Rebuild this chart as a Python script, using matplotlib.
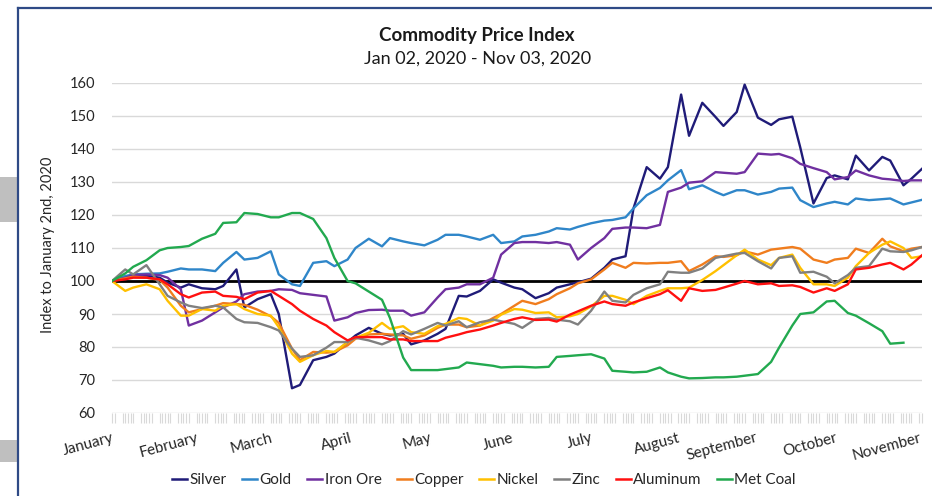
import numpy as np
import pandas as pd
import matplotlib
matplotlib.use("Agg")
import matplotlib.pyplot as plt
import matplotlib.dates as mdates
from matplotlib.patches import Rectangle
from matplotlib.lines import Line2D
from matplotlib.transforms import ScaledTranslation

plt.rcParams['font.family'] = ['Lato', 'DejaVu Sans']

# ---- data -------------------------------------------------------------
all_days = pd.bdate_range("2020-01-02", "2020-11-03")
sample_idx = list(range(0, 217, 3)) + [218]
dates = all_days[sample_idx]

silver = [100, 101.3, 101.6, 101.6, 101, 99.5, 98, 99, 97.8, 97.5,
          98.5, 103.5, 92, 94.5, 96, 90, 67.5, 68.5, 76, 77,
          78, 81.5, 83.5, 85.8, 84, 83.5, 84, 80.8, 82, 84,
          85.5, 95.5, 95.3, 97, 100.5, 99.5, 98, 97.5, 94.8, 96.3,
          98, 99, 99.6, 100.7, 104, 106.5, 107.5, 122, 134.5, 131,
          134.5, 156.5, 144, 154, 149.7, 147, 151.2, 159.5, 149.5, 147.3,
          149, 149.8, 140.5, 123.5, 131.2, 132, 130.8, 138, 133.5, 137.6,
          136.5, 129, 131, 134]
gold = [100, 101.5, 102, 102.2, 102.3, 102.8, 103.8, 103.5, 103.5, 103,
        105.5, 108.8, 106.5, 107, 109, 102, 99, 98.5, 105.5, 106,
        104.5, 106.5, 110, 112.8, 110.5, 113, 112, 111.5, 110.8, 112.5,
        114, 114, 113.5, 112.5, 114, 111.5, 112, 113.5, 114, 115,
        116, 115.6, 116.4, 117.5, 118.3, 118.5, 119.3, 122, 126, 128.2,
        130.5, 133.6, 127.8, 129, 127, 126, 127.5, 127.5, 126.2, 127,
        128, 128.3, 124.5, 122.4, 123.5, 124, 123.2, 125, 124.5, 124.8,
        125, 123.2, 123.8, 124.6]
iron_ore = [100, 101, 101.8, 102, 101.8, 101, 97.5, 86.5, 88, 90.5,
            92, 93.8, 96, 96.8, 97, 97.5, 97.3, 96.3, 95.8, 95.3,
            88, 89, 90.3, 91.2, 91.3, 91, 91, 89.5, 90.5, 95,
            97.5, 98, 99, 99, 101, 108, 111.5, 111.8, 111.8, 111.5,
            111.8, 111, 106.5, 110, 113, 115.8, 116.2, 116.2, 116, 117,
            127, 128.3, 129.8, 130.2, 133, 132.8, 132.5, 133, 138.6, 138.3,
            138.5, 137.2, 135.5, 134.2, 133, 130.8, 131.5, 133.5, 132, 131,
            130.8, 130.3, 130.5, 130.5]
copper = [100, 100.8, 101.3, 101, 100.3, 98, 92.5, 90.5, 91.5, 92.5,
          93.3, 93, 92.8, 91.3, 89.3, 87.3, 79.5, 76, 78.5, 78.3,
          78.5, 80.5, 82.5, 83.8, 84, 83.8, 83.5, 82.5, 83.5, 85.8,
          86.8, 86.8, 86, 86.5, 88.8, 90, 92.5, 94, 93, 94.5,
          96, 97.8, 99.3, 100.5, 103.5, 105.5, 104, 105.5, 105.3, 105.5,
          105.5, 106, 103, 105, 107.5, 107.3, 107.8, 109, 108, 109.5,
          109.8, 110.3, 109.8, 106.5, 105.5, 106.5, 107, 109.8, 108.5, 112.8,
          110.5, 109, 109.8, 110.3]
nickel = [100, 97, 98, 99, 97.5, 94, 89.5, 89.5, 91.5, 91,
          92.5, 93, 91.5, 90, 89.5, 86, 78, 75.5, 77.5, 78.8,
          78.5, 81.5, 82.8, 84.3, 87.3, 85.5, 86.3, 84.5, 84, 86.3,
          87, 88.8, 88.5, 86.5, 88, 89.8, 91.5, 91.3, 90.3, 90.5,
          89, 89.3, 90, 92.3, 95.5, 95.5, 94.3, 93, 95.5, 97,
          97.8, 97.8, 98, 100.3, 103, 104.8, 107.8, 109.5, 106.5, 104.8,
          107, 108, 104, 99, 99, 98.5, 101, 104.5, 108.5, 111,
          112, 110, 107, 107.5]
zinc = [100, 103.5, 102, 104.8, 99, 95.5, 93.5, 92.5, 91.8, 92.5,
        92, 88.5, 87.5, 87.3, 86, 85, 79.5, 77, 77.5, 79.8,
        81.5, 81.5, 82.8, 82, 80.8, 81.8, 84.8, 83.8, 85.5, 87.3,
        86.5, 87.8, 86, 87.5, 88.3, 87.8, 87, 85.8, 88.5, 88.8,
        88.3, 87.8, 86.8, 91, 96.8, 94, 93.5, 95.8, 97.8, 99,
        102.8, 102.5, 102.5, 103.8, 107, 107.5, 108.3, 108.5, 106, 103.8,
        107, 107.5, 102.5, 102.8, 101.3, 99.3, 101.8, 104, 104.5, 109.8,
        109, 108.8, 109.3, 110.3]
aluminum = [100, 100.5, 101, 101, 100.5, 99, 96, 95, 96.5, 96.8,
            95.5, 95.2, 94.5, 96.5, 97, 95.5, 93, 91, 88.5, 86.5,
            84.5, 82, 83, 83, 83, 82.3, 82.3, 81.8, 81.8, 81.8,
            82.8, 83.8, 84.5, 85.3, 86.5, 87.3, 88.5, 89, 88.2, 88.3,
            87.7, 89.8, 90.8, 92.5, 93.8, 93, 92.5, 93.5, 94.8, 96,
            97.2, 94, 97.8, 97, 97.3, 98, 99.2, 100, 99, 99.3,
            98.5, 98.7, 98.2, 96.5, 97.8, 97, 99, 103.5, 104, 105,
            105.5, 103.5, 105, 107.8]
met_coal = [100, 102.3, 104.3, 106.3, 109.3, 110, 110.3, 110.6, 112.8, 114.3,
            117.6, 117.8, 120.6, 120.3, 119.3, 119.3, 120.6, 120.6, 118.8, 113,
            107, 100, 99.3, 96.8, 94.3, 88.8, 76.8, 73, 73, 73,
            73.3, 73.8, 75.3, 74.8, 74.3, 73.8, 74, 74, 73.8, 74,
            77, 77.3, 77.5, 77.8, 76.5, 72.8, 72.5, 72.3, 72.5, 73.8,
            72.3, 71, 70.5, 70.6, 70.8, 70.8, 71, 71.3, 71.8, 75.5,
            79.8, 86.5, 90, 90.5, 93.8, 94, 90.3, 89.5, 87.2, 84.8,
            81, 81.3, np.nan, np.nan]

series_names = ["Silver", "Gold", "Iron Ore", "Copper", "Nickel", "Zinc",
                "Aluminum", "Met Coal"]
series_values = [silver, gold, iron_ore, copper, nickel, zinc, aluminum, met_coal]
series_colors = ["#1F1B78", "#2F86C9", "#7030A0", "#F07D1E", "#FFC000",
                 "#808080", "#FF1010", "#22A94F"]

month_labels = ["January", "February", "March", "April", "May", "June", "July",
                "August", "September", "October", "November"]
yticks = [60, 70, 80, 90, 100, 110, 120, 130, 140, 150, 160]

# ---- figure -----------------------------------------------------------
W, H = 932, 496
fig = plt.figure(figsize=(W / 100, H / 100), dpi=100)
fig.patch.set_facecolor("white")

# slide decorations: border and grey blocks on the left
fig.add_artist(Line2D([18 / W, 18 / W], [0, 1 - 8 / H], transform=fig.transFigure,
                      color="#2F4A86", lw=1.6))
fig.add_artist(Line2D([18 / W, 1], [1 - 8 / H, 1 - 8 / H], transform=fig.transFigure,
                      color="#2F4A86", lw=1.6))
fig.add_artist(Rectangle((0, 1 - 222 / H), 17 / W, 45 / H, transform=fig.transFigure,
                         facecolor="#BFBFBF", edgecolor="none"))
fig.add_artist(Rectangle((0, 1 - 462 / H), 17 / W, 22 / H, transform=fig.transFigure,
                         facecolor="#BFBFBF", edgecolor="none"))

ax = fig.add_axes([112 / W, 1 - 413 / H, 810 / W, 330 / H])
ax.set_facecolor("none")

for name, vals, col in zip(series_names, series_values, series_colors):
    ax.plot(dates, vals, color=col, lw=1.7, label=name, solid_joinstyle="round")

ax.axhline(100, color="black", lw=2.0, zorder=1.5)

ax.set_ylim(60, 160)
ax.set_yticks(yticks)
ax.yaxis.grid(True, color="#D9D9D9", lw=1.0)
ax.set_axisbelow(True)
ax.set_xlim(all_days[0], all_days[-1])

# month ticks at the first trading day of each month
first_days = [all_days[all_days.month == m][0] for m in range(1, 12)]
ax.set_xticks(first_days)
ax.set_xticklabels(month_labels, rotation=15, ha="right", rotation_mode="anchor",
                   fontsize=11, color="#262626")
shift = ScaledTranslation(-6 / 100, 3 / 100, fig.dpi_scale_trans)
for lab in ax.get_xticklabels():
    lab.set_transform(lab.get_transform() + shift)
ax.set_xticks(mdates.date2num(all_days), minor=True)
ax.tick_params(axis="x", which="both", length=7, width=0.8, color="#D9D9D9",
               direction="out", pad=6)
ax.tick_params(axis="y", length=0, pad=12, labelsize=10.5, labelcolor="#262626")

for s in ax.spines.values():
    s.set_visible(False)

fig.text(0.512, 1 - 35 / H, "Commodity Price Index", ha="center", va="center",
         fontsize=13.5, fontweight="bold", color="#1a1a1a")
fig.text(0.512, 1 - 59 / H, "Jan 02, 2020 - Nov 03, 2020", ha="center", va="center",
         fontsize=13, color="#1a1a1a")
fig.text(48 / W, 1 - 245 / H, "Index to January 2nd, 2020", rotation=90,
         ha="center", va="center", fontsize=10.5, color="#262626")

handles = [Line2D([0], [0], color=c, lw=1.8) for c in series_colors]
fig.legend(handles, series_names, loc="center", bbox_to_anchor=(484 / W, 1 - 480 / H),
           ncol=8, frameon=False, fontsize=11, handlelength=1.0,
           handletextpad=0.15, columnspacing=1.0, labelcolor="#262626")

fig.savefig("out.png", dpi=100, facecolor="white")
